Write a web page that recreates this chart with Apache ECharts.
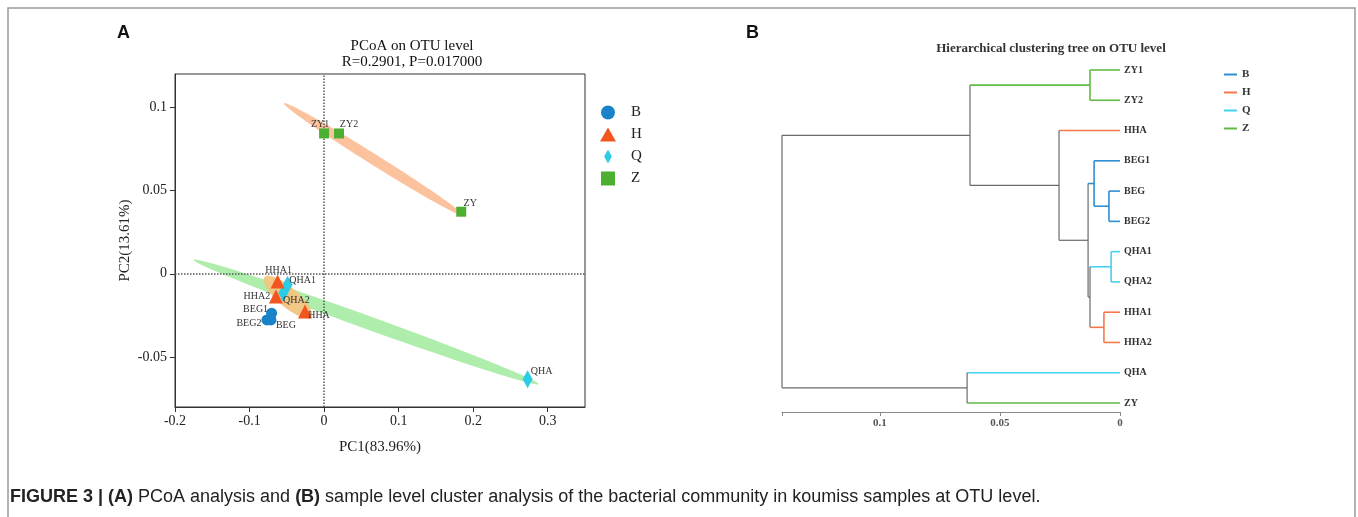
<!DOCTYPE html>
<html>
<head>
<meta charset="utf-8">
<script src="https://cdn.jsdelivr.net/npm/echarts@6/dist/echarts.min.js"></script>
<style>
html, body { margin: 0; padding: 0; background: #fff; }
#main { width: 1358px; height: 517px; }
</style>
</head>
<body>
<div id="main"></div>
<script>
// PCoA sample coordinates [name, PC1, PC2]
var pcoaB = [['BEG1', -0.0704, -0.0237], ['BEG2', -0.0767, -0.0277], ['BEG', -0.0713, -0.0277]];
var pcoaH = [['HHA1', -0.0623, -0.0046], ['HHA2', -0.0646, -0.0137], ['HHA', -0.0256, -0.0227]];
var pcoaQ = [['QHA1', -0.049, -0.0066], ['QHA2', -0.0547, -0.0116], ['QHA', 0.273, -0.0633]];
var pcoaZ = [['ZY1', 0.0, 0.0843], ['ZY2', 0.020, 0.0843], ['ZY', 0.184, 0.0373]];
var groups = ['B', 'H', 'Q', 'Z'];

// confidence ellipses: [x1, y1, x2, y2, width ratio] (ends of the long axis)
var ellipses = [
    [-0.175, 0.0084, 0.288, -0.0663, 0.036],   // Q
    [-0.0538, 0.1024, 0.1871, 0.0349, 0.05],   // Z
    [-0.080, -0.002, -0.017, -0.026, 0.32]     // H
];

// clustering tree
var leaves = ['ZY1', 'ZY2', 'HHA', 'BEG1', 'BEG', 'BEG2', 'QHA1', 'QHA2', 'HHA1', 'HHA2', 'QHA', 'ZY'];
var leafGroup = ['Z', 'Z', 'H', 'B', 'B', 'B', 'Q', 'Q', 'H', 'H', 'Q', 'Z'];
// merges [childA, childB, height]; new node ids start at leaves.length
var merges = [
    [0, 1, 0.0125],
    [4, 5, 0.0046],
    [3, 13, 0.0108],
    [6, 7, 0.0037],
    [8, 9, 0.0067],
    [15, 16, 0.0125],
    [14, 17, 0.0133],
    [2, 18, 0.0254],
    [12, 19, 0.0625],
    [10, 11, 0.0637],
    [20, 21, 0.1408]
];

var markerColor = { B: '#1884c7', H: '#f2551f', Q: '#2ccbe6', Z: '#4caf32' };
var treeColor = { B: '#2f8fd3', H: '#f47a4e', Q: '#44d2ee', Z: '#62bb44' };
var ellipseFill = ['rgba(170,236,168,0.95)', 'rgba(252,190,152,0.95)', 'rgba(242,196,128,0.95)'];
var labelOffset = {
    BEG1: [-16, -4], BEG2: [-18, 3], BEG: [15, 5],
    HHA1: [1, -11], HHA2: [-19, 0], HHA: [14, 4],
    QHA1: [15, -4], QHA2: [13, 7], QHA: [14, -8],
    ZY1: [-4, -9], ZY2: [10, -9], ZY: [9, -8]
};
var serif = 'Liberation Serif';

// build tree segments
var nodeX = [], nodeY = [], nodeG = [];
leaves.forEach(function (n, i) { nodeX.push(0); nodeY.push(i); nodeG.push(leafGroup[i]); });
var segs = [], segCol = [];
merges.forEach(function (m) {
    var a = m[0], b = m[1], h = m[2];
    var g = nodeG[a] && nodeG[a] === nodeG[b] ? nodeG[a] : null;
    segs.push([nodeX[a], nodeY[a], h, nodeY[a]]); segCol.push(nodeG[a]);
    segs.push([nodeX[b], nodeY[b], h, nodeY[b]]); segCol.push(nodeG[b]);
    segs.push([h, nodeY[a], h, nodeY[b]]); segCol.push(g);
    nodeX.push(h); nodeY.push((nodeY[a] + nodeY[b]) / 2); nodeG.push(g);
});

var myChart = echarts.init(document.getElementById('main'));

function scatterSeries(name, list, symbol, size, z) {
    return {
        name: name,
        type: 'scatter',
        xAxisIndex: 0, yAxisIndex: 0,
        symbol: symbol,
        symbolSize: size,
        z: z,
        itemStyle: { color: markerColor[name], opacity: 1 },
        data: list.map(function (d) {
            return {
                name: d[0], value: [d[1], d[2]],
                label: { offset: labelOffset[d[0]] }
            };
        }),
        label: {
            show: true, position: 'inside', formatter: '{b}',
            fontFamily: serif, fontSize: 10, color: '#333'
        },
        emphasis: { disabled: true }
    };
}

var series = [
    {
        type: 'custom',
        xAxisIndex: 0, yAxisIndex: 0,
        z: 1,
        silent: true,
        encode: { x: [0, 2], y: [1, 3] },
        data: ellipses,
        renderItem: function (params, api) {
            var p1 = api.coord([api.value(0), api.value(1)]);
            var p2 = api.coord([api.value(2), api.value(3)]);
            var r = api.value(4);
            var cx = (p1[0] + p2[0]) / 2, cy = (p1[1] + p2[1]) / 2;
            var ax = (p2[0] - p1[0]) / 2, ay = (p2[1] - p1[1]) / 2;
            var bx = -ay * r, by = ax * r;
            var pts = [];
            for (var i = 0; i < 90; i++) {
                var t = i / 90 * Math.PI * 2;
                pts.push([cx + Math.cos(t) * ax + Math.sin(t) * bx, cy + Math.cos(t) * ay + Math.sin(t) * by]);
            }
            return { type: 'polygon', shape: { points: pts }, style: { fill: ellipseFill[params.dataIndex] } };
        }
    },
    scatterSeries('B', pcoaB, 'circle', 11, 3),
    scatterSeries('Q', pcoaQ, 'diamond', [10, 18], 4),
    scatterSeries('H', pcoaH, 'triangle', 14, 5),
    scatterSeries('Z', pcoaZ, 'rect', 10, 5),
    {
        type: 'scatter',
        xAxisIndex: 0, yAxisIndex: 0,
        data: [],
        z: 2,
        markLine: {
            silent: true,
            symbol: 'none',
            label: { show: false },
            lineStyle: { type: 'dotted', color: '#555', width: 1.5 },
            data: [{ xAxis: 0 }, { yAxis: 0 }]
        }
    },
    {
        type: 'custom',
        xAxisIndex: 1, yAxisIndex: 1,
        silent: true,
        encode: { x: [0, 2], y: [1, 3] },
        data: segs,
        renderItem: function (params, api) {
            var a = api.coord([api.value(0), api.value(1)]);
            var b = api.coord([api.value(2), api.value(3)]);
            var g = segCol[params.dataIndex];
            return {
                type: 'line',
                shape: { x1: a[0], y1: a[1], x2: b[0], y2: b[1] },
                style: { stroke: g ? treeColor[g] : '#6a6a6a', lineWidth: g ? 1.6 : 1.2 }
            };
        }
    }
];

option = {
    backgroundColor: '#fff',
    animation: false,
    title: [
        {
            text: 'PCoA on OTU level\nR=0.2901, P=0.017000',
            left: 407, top: 33, textAlign: 'center',
            textStyle: { fontFamily: serif, fontSize: 15, fontWeight: 'normal', color: '#111', lineHeight: 16 }
        },
        {
            text: 'Hierarchical clustering tree on OTU level',
            left: 1046, top: 37, textAlign: 'center',
            textStyle: { fontFamily: serif, fontSize: 13, fontWeight: 'bold', color: '#333' }
        }
    ],
    legend: [
        {
            orient: 'vertical',
            left: 595, top: 100,
            itemWidth: 36, itemHeight: 14, itemGap: 7,
            selectedMode: false,
            textStyle: { fontFamily: serif, fontSize: 15, color: '#222' },
            data: [
                { name: 'B', icon: 'circle' },
                { name: 'H', icon: 'path://M6,0L12,10.5L0,10.5Z' },
                { name: 'Q', icon: 'path://M5,0L10,9L5,18L0,9Z' },
                { name: 'Z', icon: 'path://M0,0H10V10H0Z' }
            ]
        },
        {
            orient: 'vertical',
            left: 1219, top: 64,
            itemWidth: 13, itemHeight: 2, itemGap: 7,
            selectedMode: false,
            textStyle: { fontFamily: serif, fontSize: 11, fontWeight: 'bold', color: '#333' },
            data: groups.map(function (g) {
                return { name: g, icon: 'rect', itemStyle: { color: treeColor[g] } };
            })
        }
    ],
    grid: [
        { left: 175, top: 74, width: 410, height: 333, show: true, borderColor: '#333', borderWidth: 1 },
        { left: 782, top: 70, width: 338, height: 333 }
    ],
    xAxis: [
        {
            gridIndex: 0, type: 'value', min: -0.2, max: 0.35, splitNumber: 5,
            name: 'PC1(83.96%)', nameLocation: 'middle', nameGap: 33,
            nameTextStyle: { fontFamily: serif, fontSize: 15, color: '#222' },
            axisLine: { onZero: false, lineStyle: { color: '#333' } },
            axisTick: { length: 5, lineStyle: { color: '#333' } },
            axisLabel: { fontFamily: serif, fontSize: 14, color: '#222', margin: 7, showMaxLabel: false },
            splitLine: { show: false }
        },
        {
            gridIndex: 1, type: 'value', min: 0, max: 0.1408, splitNumber: 3, inverse: true,
            position: 'bottom', offset: 9,
            axisLine: { onZero: false, lineStyle: { color: '#888' } },
            axisTick: { length: 4, lineStyle: { color: '#888' } },
            axisLabel: {
                fontFamily: serif, fontSize: 11, fontWeight: 'bold', color: '#555', margin: 6,
                formatter: function (v) {
                    return Math.abs(v * 20 - Math.round(v * 20)) < 1e-6 ? String(+v.toFixed(2)) : '';
                }
            },
            splitLine: { show: false }
        }
    ],
    yAxis: [
        {
            gridIndex: 0, type: 'value', min: -0.08, max: 0.12, splitNumber: 5,
            name: 'PC2(13.61%)', nameLocation: 'middle', nameGap: 42,
            nameTextStyle: { fontFamily: serif, fontSize: 15, color: '#222' },
            axisLine: { onZero: false, lineStyle: { color: '#333' } },
            axisTick: { length: 5, lineStyle: { color: '#333' } },
            axisLabel: { fontFamily: serif, fontSize: 14, color: '#222', margin: 8, showMinLabel: false, showMaxLabel: false },
            splitLine: { show: false }
        },
        {
            gridIndex: 1, type: 'value', min: 0, max: 11, interval: 1, inverse: true,
            position: 'right',
            axisLine: { show: false, onZero: false },
            axisTick: { show: false },
            axisLabel: {
                fontFamily: serif, fontSize: 10, fontWeight: 'bold', color: '#333', margin: 4,
                formatter: function (v) { return leaves[v] || ''; }
            },
            splitLine: { show: false }
        }
    ],
    graphic: [
        {
            type: 'rect', silent: true,
            shape: { x: 8, y: 8, width: 1347, height: 620 },
            style: { fill: 'none', stroke: '#9a9a9a', lineWidth: 1.5 }
        },
        {
            type: 'text', left: 117, top: 24,
            style: { text: 'A', font: 'bold 18px "Liberation Sans"', fill: '#111' }
        },
        {
            type: 'text', left: 746, top: 24,
            style: { text: 'B', font: 'bold 18px "Liberation Sans"', fill: '#111' }
        },
        {
            type: 'text', left: 10, top: 488,
            style: {
                text: '{b|FIGURE 3 | (A)} PCoA analysis and {b|(B)} sample level cluster analysis of the bacterial community in koumiss samples at OTU level.',
                font: '18px "Liberation Sans"', fill: '#222',
                rich: { b: { fontWeight: 'bold', fontFamily: 'Liberation Sans', fontSize: 18, fill: '#222' } }
            }
        }
    ],
    series: series
};

myChart.setOption(option);
</script>
</body>
</html>
